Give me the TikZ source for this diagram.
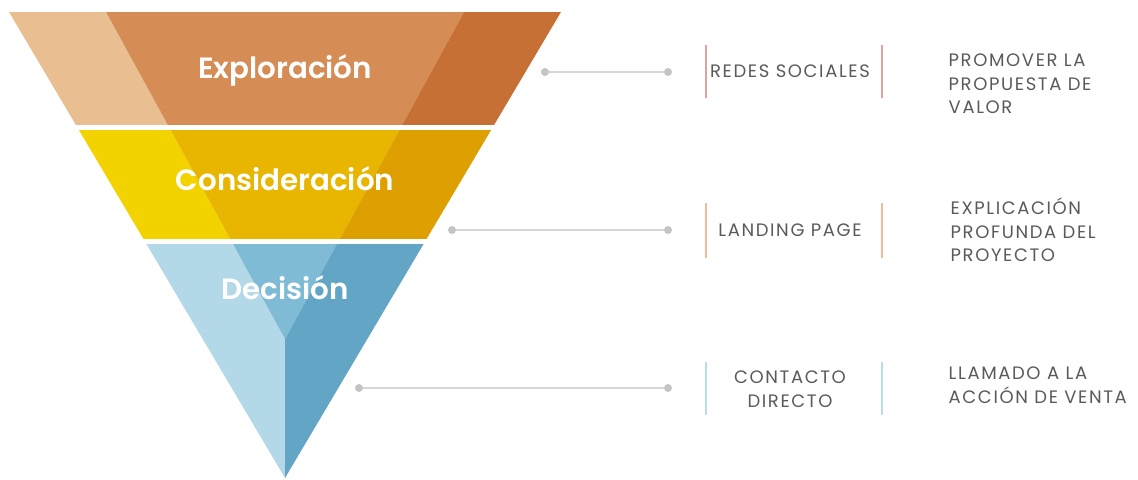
\documentclass[tikz,border=0pt]{standalone}
\usepackage{fontspec}
\setmainfont{Poppins}
\newfontfamily\stagefont{Poppins SemiBold}
\newfontfamily\capsfont{Poppins}[LetterSpace=9]
\usetikzlibrary{positioning}

\definecolor{exA}{HTML}{E9BE91}
\definecolor{exB}{HTML}{D68D55}
\definecolor{exC}{HTML}{C77036}
\definecolor{coA}{HTML}{F2D300}
\definecolor{coB}{HTML}{E8B500}
\definecolor{coC}{HTML}{DDA000}
\definecolor{deA}{HTML}{B3D8E7}
\definecolor{deB}{HTML}{80BBD5}
\definecolor{deC}{HTML}{62A5C5}
\definecolor{txtgray}{HTML}{5A5A5A}
\definecolor{barA}{HTML}{E2A39B}
\definecolor{barB}{HTML}{EEBC98}
\definecolor{barC}{HTML}{B8DCEA}
\definecolor{linkgray}{HTML}{D5D5D5}
\definecolor{dotgray}{HTML}{C4C4C4}

\begin{document}
\begin{tikzpicture}[x=0.75pt, y=-0.75pt,
  stage/.style={text=white, anchor=base, font=\fontsize{22}{24}\stagefont},
  channel/.style={text=txtgray, align=center, font=\fontsize{13.5}{17.6}\capsfont},
  goal/.style={text=txtgray, align=left, anchor=west, font=\fontsize{13.5}{17.6}\capsfont},
  link/.style={draw=linkgray, line width=1.2pt},
  dot/.style={circle, fill=dotgray, inner sep=0pt, minimum size=6pt},
  bar/.style={line width=1.6pt}]
\useasboundingbox (0,0) rectangle (1138,479);

% funnel
\coordinate (tl) at (9,12);
\coordinate (tr) at (561,12);
\coordinate (dl) at (106,12);
\coordinate (dr) at (464,12);
\coordinate (mid) at (285,339);
\coordinate (tip) at (285,478);
\foreach \ya/\yb/\ca/\cb/\cc in {12/124/exA/exB/exC, 130/238/coA/coB/coC, 244/479/deA/deB/deC} {
  \begin{scope}
    \clip (0,\ya) rectangle (1138,\yb);
    \fill[\ca] (tl) -- (dl) -- (mid) -- (tip) -- cycle;
    \fill[\cb] (dl) -- (dr) -- (mid) -- cycle;
    \fill[\cc] (dr) -- (tr) -- (tip) -- (mid) -- cycle;
  \end{scope}
}
\node[stage] (explo) at (285,78) {Exploración};
\node[stage] (consi) at (285,190) {Consideración};
\node[stage] (deci) at (285,299) {Decisión};

% connectors
\node[dot] (s1) at (545,72) {};
\node[dot] (e1) at (668,72) {};
\node[dot] (s2) at (452,230) {};
\node[dot] (e2) at (668,230) {};
\node[dot] (s3) at (359,388) {};
\node[dot] (e3) at (668,388) {};
\draw[link] (s1) -- (e1);
\draw[link] (s2) -- (e2);
\draw[link] (s3) -- (e3);

% channels
\draw[bar, barA] (706,45) -- (706,98);
\draw[bar, barA] (882,45) -- (882,98);
\draw[bar, barB] (706,203) -- (706,258);
\draw[bar, barB] (882,203) -- (882,258);
\draw[bar, barC] (706,362) -- (706,415);
\draw[bar, barC] (882,362) -- (882,415);
\node[channel] (redes) at (790,71) {REDES SOCIALES};
\node[channel] (landing) at (790,230) {LANDING PAGE};
\node[channel] (contacto) at (790,389) {CONTACTO\\DIRECTO};

% goals
\node[goal] (promo) at (944,84) {PROMOVER LA\\PROPUESTA DE\\VALOR};
\node[goal] (expli) at (946,230) {EXPLICACIÓN\\PROFUNDA DEL\\PROYECTO};
\node[goal] (llama) at (944,385) {LLAMADO A LA\\ACCIÓN DE VENTA};
\end{tikzpicture}
\end{document}
